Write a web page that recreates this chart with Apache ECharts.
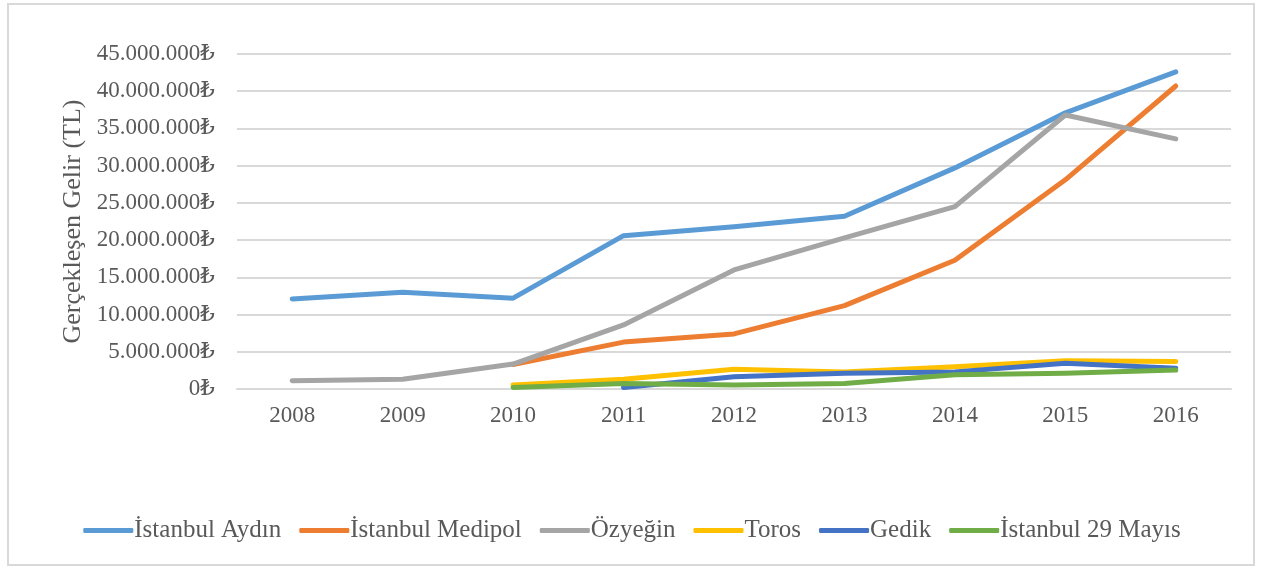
<!DOCTYPE html>
<html>
<head>
<meta charset="utf-8">
<script src="https://cdn.jsdelivr.net/npm/echarts@6/dist/echarts.min.js"></script>
<style>
  html, body { margin: 0; padding: 0; background: #fff; }
  #frame { position: absolute; left: 7px; top: 3px; width: 1248px; height: 563px; border: 2px solid #d9d9d9; box-sizing: border-box; }
  #chart { position: absolute; left: 0; top: 0; width: 1264px; height: 570px; }
</style>
</head>
<body>
<div id="frame"></div>
<div id="chart"></div>
<script>
// yıllar
const years = ['2008', '2009', '2010', '2011', '2012', '2013', '2014', '2015', '2016'];

// üniversite gelirleri (TL)
const aydin = [12100000, 13000000, 12200000, 20600000, 21800000, 23200000, 29700000, 37100000, 42600000];
const medipol = [null, null, 3300000, 6300000, 7400000, 11200000, 17300000, 28100000, 40700000];
const ozyegin = [1100000, 1300000, 3350000, 8600000, 16000000, 20300000, 24500000, 36800000, 33600000];
const toros = [null, null, 550000, 1300000, 2650000, 2300000, 3000000, 3800000, 3700000];
const gedik = [null, null, null, 200000, 1650000, 2100000, 2300000, 3450000, 2800000];
const mayis29 = [null, null, 200000, 750000, 550000, 750000, 1900000, 2100000, 2550000];

const seriesNames = ['İstanbul Aydın', 'İstanbul Medipol', 'Özyeğin', 'Toros', 'Gedik', 'İstanbul 29 Mayıs'];
const seriesColors = ['#5b9bd5', '#ed7d31', '#a5a5a5', '#ffc000', '#4472c4', '#70ad47'];
const seriesData = [aydin, medipol, ozyegin, toros, gedik, mayis29];

const font = '"Liberation Serif", "DejaVu Serif", serif';

function fmt(v) {
  return String(v).replace(/\B(?=(\d{3})+(?!\d))/g, '.') + '₺';
}

const myChart = echarts.init(document.getElementById('chart'));

const option = {
  backgroundColor: 'transparent',
  animation: false,
  grid: { left: 237, right: 33, top: 54, bottom: 181 },
  legend: {
    bottom: 22,
    left: 'center',
    itemWidth: 50,
    itemHeight: 5,
    itemGap: 18,
    icon: 'roundRect',
    textStyle: { color: '#595959', fontSize: 25, fontFamily: font, padding: [0, 0, 0, -4] },
    data: seriesNames
  },
  xAxis: {
    type: 'category',
    data: years,
    boundaryGap: true,
    axisLine: { show: true, lineStyle: { color: '#d9d9d9', width: 2 } },
    axisTick: { show: false },
    axisLabel: { color: '#595959', fontSize: 23, fontFamily: font, margin: 15 }
  },
  yAxis: {
    type: 'value',
    min: 0,
    max: 45000000,
    interval: 5000000,
    name: 'Gerçekleşen Gelir (TL)',
    nameLocation: 'middle',
    nameGap: 150,
    nameTextStyle: { color: '#595959', fontSize: 26, fontFamily: font },
    axisLine: { show: false },
    axisTick: { show: false },
    splitLine: { lineStyle: { color: '#d9d9d9', width: 2 } },
    axisLabel: { color: '#595959', fontSize: 23, fontFamily: font, margin: 22, formatter: fmt }
  },
  series: seriesNames.map((name, i) => ({
    name: name,
    type: 'line',
    data: seriesData[i],
    symbol: 'none',
    connectNulls: false,
    lineStyle: { color: seriesColors[i], width: 5, cap: 'round', join: 'round' },
    itemStyle: { color: seriesColors[i] }
  }))
};

myChart.setOption(option);
</script>
</body>
</html>
